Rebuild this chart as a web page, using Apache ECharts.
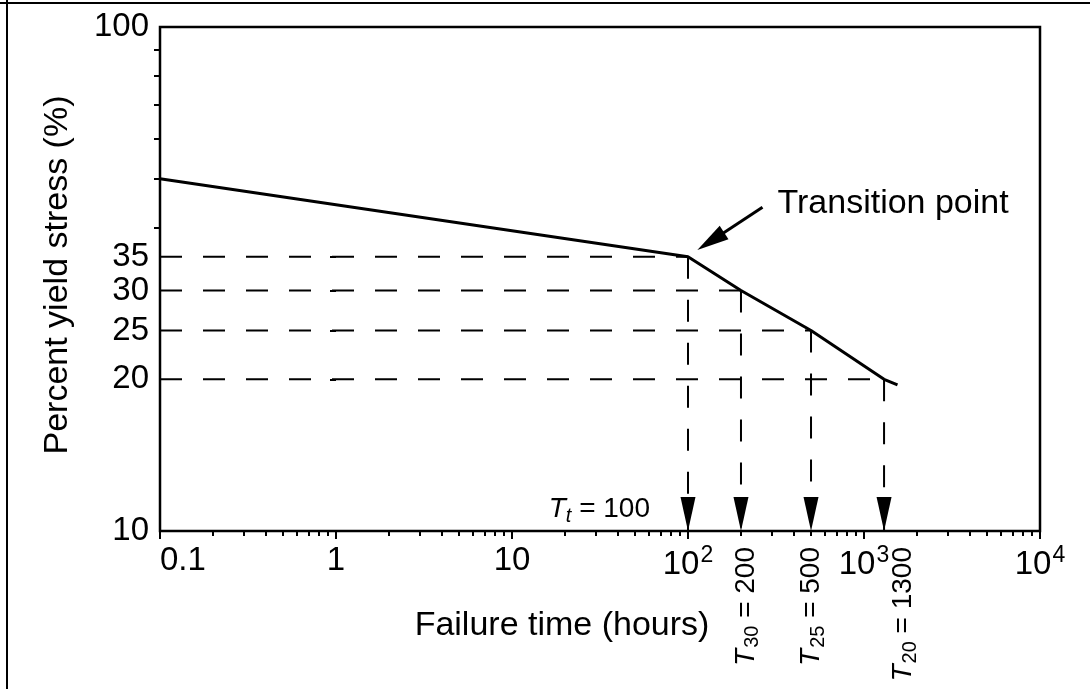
<!DOCTYPE html>
<html>
<head>
<meta charset="utf-8">
<script src="https://cdn.jsdelivr.net/npm/echarts@6/dist/echarts.min.js"></script>
<style>
  html, body { margin: 0; padding: 0; background: #fff; }
  #chart { width: 1090px; height: 689px; }
</style>
</head>
<body>
<div id="chart"></div>
<script>
const FONT = '"Liberation Sans", Arial, Helvetica, sans-serif';

// Rupture curve: failure time (hours) vs percent yield stress
const curveTime = [0.1, 100, 200, 500, 1300, 1550];
const curveStress = [50, 35, 30, 25, 20, 19.5];

// Stress levels traced down to the time axis
const levelStress = [35, 30, 25, 20];
const levelTime = [100, 200, 500, 1300];
const levelSubscript = ['t', '30', '25', '20'];

// Axis ticks (x ticks as decade exponents)
const xTickExp = [-1, 0, 1, 2, 3, 4];
const xTickLabels = ['0.1', '1', '10', '10^2', '10^3', '10^4'];
const yTickValues = [10, 20, 25, 30, 35, 100];
const yMinorValues = [40, 50, 60, 70, 80, 90];

// Callout arrow for the transition point (tail -> head, data units)
const calloutTail = [265, 43.9];
const calloutHead = [113, 36.1];

const X_MIN = 0.1, X_MAX = 10000, Y_MIN = 10, Y_MAX = 100;

// minor decade ticks 2..9 for the log time axis
const xMinorExp = [];
for (let e = -1; e < 4; e++) {
  for (let k = 2; k <= 9; k++) xMinorExp.push(e + Math.log10(k));
}
const clampLog = (v, lo, hi) => Math.min(hi, Math.max(lo, Math.log10(v)));
const yTickExp = yTickValues.map(v => clampLog(v, 1, 2));
const yMinorExp = yMinorValues.map(v => clampLog(v, 1, 2));

const tickStyle = { color: '#000', width: 2 };

const chart = echarts.init(document.getElementById('chart'));

const series = [];

// dashed guides: across from the stress axis, then down to the time axis
levelStress.forEach((s, i) => {
  const t = levelTime[i];
  series.push({
    type: 'line', xAxisIndex: 0, yAxisIndex: 0, silent: true, z: 2,
    symbol: 'none', animation: false,
    lineStyle: { color: '#000', width: 2, type: [22, 21] },
    data: [[X_MIN, s], [t, s]]
  });
  series.push({
    type: 'line', xAxisIndex: 0, yAxisIndex: 0, silent: true, z: 2,
    symbol: 'none', animation: false,
    lineStyle: { color: '#000', width: 2, type: [22, 21] },
    data: [[t, s], [t, Y_MIN]]
  });
});

// arrowheads on the time axis
series.push({
  type: 'scatter', xAxisIndex: 0, yAxisIndex: 0, silent: true, z: 4,
  animation: false,
  symbol: 'path://M0,0L2,0L1,4Z',
  symbolSize: [15, 34],
  symbolOffset: [0, -17],
  itemStyle: { color: '#000', opacity: 1 },
  data: levelTime.map(t => [t, Y_MIN])
});

// the rupture curve
series.push({
  type: 'line', xAxisIndex: 0, yAxisIndex: 0, silent: true, z: 5,
  symbol: 'none', animation: false,
  lineStyle: { color: '#000', width: 3 },
  data: curveTime.map((t, i) => [t, curveStress[i]])
});

chart.setOption({
  animation: false,
  backgroundColor: '#fff',
  textStyle: { fontFamily: FONT },
  grid: {
    left: 160, right: 50, top: 27, bottom: 158,
    show: true, borderColor: '#000', borderWidth: 2.5
  },
  xAxis: [
    { type: 'log', logBase: 10, min: X_MIN, max: X_MAX, show: false },
    {
      type: 'value', min: -1, max: 4, position: 'bottom',
      axisLine: { show: false }, splitLine: { show: false },
      axisTick: { show: true, customValues: xTickExp, length: 8, lineStyle: tickStyle },
      axisLabel: {
        customValues: xTickExp, margin: 13, color: '#000',
        alignMinLabel: 'left',
        formatter: v => {
          const lab = xTickLabels[xTickExp.indexOf(Math.round(v))] || '';
          const parts = lab.split('^');
          return parts.length > 1 ? '{b|' + parts[0] + '}{sup|' + parts[1] + '}' : '{b|' + lab + '}';
        },
        rich: {
          b: { fontSize: 33, fontFamily: FONT, color: '#000' },
          sup: { fontSize: 23, fontFamily: FONT, color: '#000', padding: [0, 0, 18, 1] }
        }
      }
    },
    {
      type: 'value', min: -1, max: 4, position: 'bottom',
      axisLine: { show: false }, splitLine: { show: false },
      axisTick: { show: true, customValues: xMinorExp, length: 5, lineStyle: tickStyle },
      axisLabel: { show: false }
    }
  ],
  yAxis: [
    { type: 'log', logBase: 10, min: Y_MIN, max: Y_MAX, show: false },
    {
      type: 'value', min: 1, max: 2, position: 'left',
      axisLine: { show: false }, splitLine: { show: false },
      axisTick: { show: true, customValues: yTickExp, length: 6, lineStyle: tickStyle },
      axisLabel: {
        customValues: yTickExp, margin: 11, color: '#000', fontSize: 33, fontFamily: FONT,
        formatter: v => String(Math.round(Math.pow(10, v)))
      }
    },
    {
      type: 'value', min: 1, max: 2, position: 'left',
      axisLine: { show: false }, splitLine: { show: false },
      axisTick: { show: true, customValues: yMinorExp, length: 6, lineStyle: tickStyle },
      axisLabel: { show: false }
    }
  ],
  series: series
});

// annotations placed from data positions
const px = (t, s) => chart.convertToPixel({ xAxisIndex: 0, yAxisIndex: 0 }, [t, s]);
const axisBase = px(X_MIN, Y_MIN);
const tr = px(curveTime[1], curveStress[1]);
const tail = px(calloutTail[0], calloutTail[1]);
const head = px(calloutHead[0], calloutHead[1]);

// callout arrow geometry
const dx = head[0] - tail[0], dy = head[1] - tail[1];
const len = Math.sqrt(dx * dx + dy * dy);
const ux = dx / len, uy = dy / len;
const headLen = 32, headHalf = 8;
const bx = head[0] - ux * headLen, by = head[1] - uy * headLen;

const richT = {
  it: { fontSize: 28, fontStyle: 'italic', fontFamily: FONT, fill: '#000' },
  subi: { fontSize: 20, fontStyle: 'italic', fontFamily: FONT, fill: '#000', padding: [14, 0, 0, 0] },
  sub: { fontSize: 20, fontFamily: FONT, fill: '#000', padding: [14, 0, 0, 1] },
  n: { fontSize: 28, fontFamily: FONT, fill: '#000' }
};
const subTag = s => (/^[0-9]+$/.test(s) ? 'sub' : 'subi');

const graphics = [
  // page frame
  { type: 'line', shape: { x1: 0, y1: 3, x2: 1090, y2: 3 }, style: { stroke: '#000', lineWidth: 2 } },
  { type: 'line', shape: { x1: 7, y1: 0, x2: 7, y2: 689 }, style: { stroke: '#000', lineWidth: 2 } },
  // axis titles
  {
    type: 'text', x: 562, y: 626,
    style: { text: 'Failure time (hours)', font: '34px ' + FONT, fill: '#000', align: 'center', verticalAlign: 'middle' }
  },
  {
    type: 'text', x: 58, y: 275, rotation: Math.PI / 2,
    style: { text: 'Percent yield stress (%)', font: '34px ' + FONT, fill: '#000', align: 'center', verticalAlign: 'middle' }
  },
  // callout arrow
  {
    type: 'line', z: 10,
    shape: { x1: tail[0], y1: tail[1], x2: bx + ux * 4, y2: by + uy * 4 },
    style: { stroke: '#000', lineWidth: 3 }
  },
  {
    type: 'polygon', z: 10,
    shape: { points: [
      [head[0], head[1]],
      [bx - uy * headHalf, by + ux * headHalf],
      [bx + uy * headHalf, by - ux * headHalf]
    ] },
    style: { fill: '#000' }
  },
  // callout label
  {
    type: 'text', x: tail[0] + 15, y: tail[1] - 4,
    style: { text: 'Transition point', font: '34px ' + FONT, fill: '#000', align: 'left', verticalAlign: 'middle' }
  },
  // transition time label
  {
    type: 'text', x: tr[0] - 38, y: axisBase[1] - 22,
    style: {
      text: '{it|T}{' + subTag(levelSubscript[0]) + '|' + levelSubscript[0] + '}{n| = ' + levelTime[0] + '}',
      rich: richT, align: 'right', verticalAlign: 'middle'
    }
  }
];

// rotated failure-time labels under the axis
const labelShift = [0, 5, 0, 19];
for (let i = 1; i < levelTime.length; i++) {
  const p = px(levelTime[i], levelStress[i]);
  graphics.push({
    type: 'text', x: p[0] + labelShift[i], y: axisBase[1] + 16, rotation: Math.PI / 2,
    style: {
      text: '{it|T}{' + subTag(levelSubscript[i]) + '|' + levelSubscript[i] + '}{n| = ' + levelTime[i] + '}',
      rich: richT, align: 'right', verticalAlign: 'middle'
    }
  });
}

chart.setOption({ graphic: graphics });
</script>
</body>
</html>
